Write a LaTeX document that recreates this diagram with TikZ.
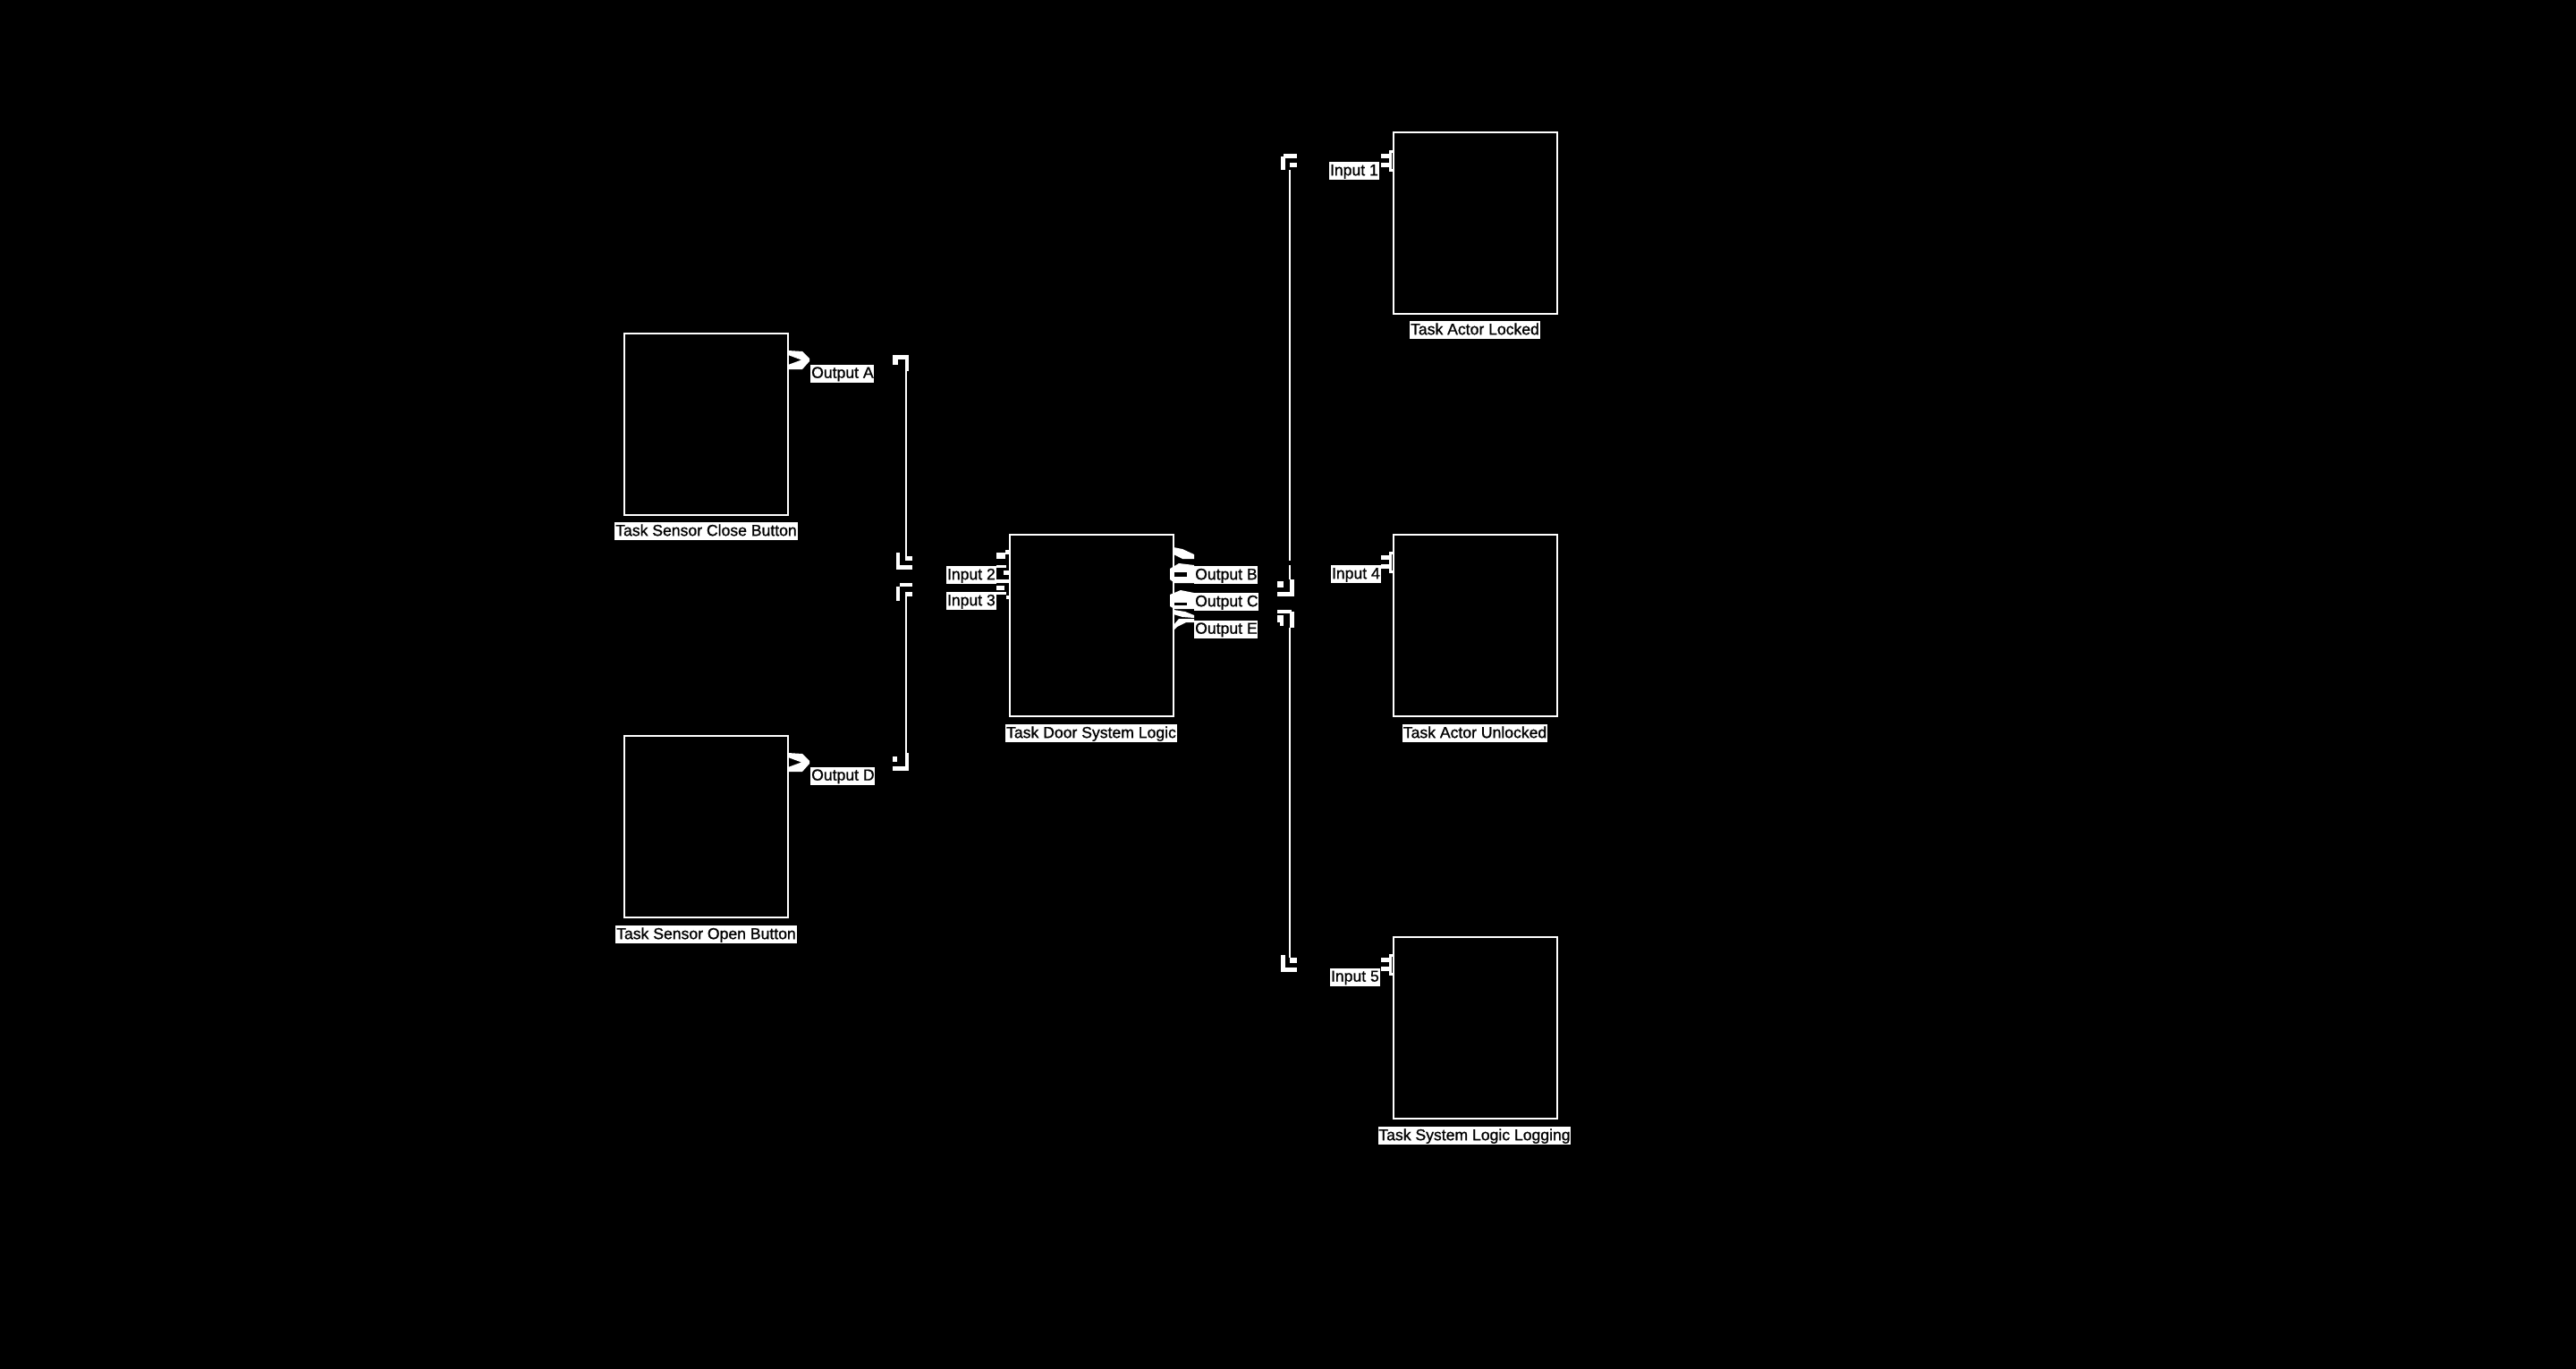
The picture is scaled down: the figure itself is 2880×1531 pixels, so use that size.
\documentclass[tikz,border=0pt]{standalone}
\usepackage{fontspec}
\setmainfont[BoldFont={Liberation Sans},BoldFeatures={FakeBold=1}]{Liberation Sans}
\begin{document}
\begin{tikzpicture}[x=0.5pt,y=-0.5pt,
  taskbox/.style={draw=white,line width=1pt,minimum width=91.5pt,minimum height=101.5pt,inner sep=0pt,outer sep=0pt},
  tag/.style={fill=white,text=black,inner sep=0.4pt,font=\fontsize{8.8}{9}\selectfont\bfseries,text height=0.72em,text depth=0.2em},
  bus/.style={draw=white,line width=0.8pt},
  inport/.pic={
    \fill[white] (-14,-8) rectangle (-4,-3);
    \fill[white] (-14,2) rectangle (-4,7);
    \fill[white] (-5,-12) rectangle (-2,12);
    \fill[white] (-5,-12) rectangle (0,-9);
    \fill[white] (-5,9) rectangle (0,12);
  },
  outport/.pic={
    \fill[white] (0,-10) -- (16,-9) -- (24,-1) -- (24,2) -- (16,11) -- (0,11)
      -- (0,6) -- (15,0.5) -- (0,-5) -- cycle;
  }]
% canvas
\fill[black] (0,0) rectangle (2880,1531);
\useasboundingbox (0,0) rectangle (2880,1531);

% task blocks
\node[taskbox] (close)    at (789.5,474)    {};
\node[taskbox] (open)     at (789.5,924)    {};
\node[taskbox] (logic)    at (1220,699.5)   {};
\node[taskbox] (locked)   at (1649.5,249.5) {};
\node[taskbox] (unlocked) at (1649.5,699.5) {};
\node[taskbox] (logging)  at (1649.5,1149.5){};

% block titles
\node[tag] (closeT)    at (789.5,594)   {Task Sensor Close Button};
\node[tag] (openT)     at (789.5,1045)  {Task Sensor Open Button};
\node[tag] (logicT)    at (1220,820)    {Task Door System Logic};
\node[tag] (lockedT)   at (1649,369)    {Task Actor Locked};
\node[tag] (unlockedT) at (1649,820)    {Task Actor Unlocked};
\node[tag] (loggingT)  at (1648.5,1270) {Task System Logic Logging};

% port labels
\node[tag,anchor=west] (outA) at (906,417.5)  {Output A};
\node[tag,anchor=west] (outD) at (906,867.5)  {Output D};
\node[tag,anchor=west] (outB) at (1335,643)   {Output B};
\node[tag,anchor=west] (outC) at (1335,673)   {Output C};
\node[tag,anchor=west] (outE) at (1335,703.5) {Output E};
\node[tag,anchor=east] (in2)  at (1114,643)   {Input 2};
\node[tag,anchor=east] (in3)  at (1114,672)   {Input 3};
\node[tag,anchor=east] (in1)  at (1542,191)   {Input 1};
\node[tag,anchor=east] (in4)  at (1544,642)   {Input 4};
\node[tag,anchor=east] (in5)  at (1543,1092.5){Input 5};

% port markers on the sensor blocks
\pic at (881,402) {outport};
\pic at (881,852) {outport};

% port markers on the logic block (outputs)
\fill[white] (1312,612) -- (1322,614) -- (1335,620) -- (1335,625) -- (1322,625) -- (1312,620) -- cycle;
\fill[white] (1318,630) -- (1335,632) -- (1335,652) -- (1313,652) -- (1308,648) -- (1308,636) -- cycle;
\fill[black] (1313,640) rectangle (1327,645);
\fill[white] (1320,660) -- (1335,663) -- (1335,681) -- (1313,681) -- (1308,678) -- (1308,665) -- cycle;
\fill[black] (1313,674) rectangle (1327,677);
\fill[white] (1312,682) -- (1325,684) -- (1335,688) -- (1335,691) -- (1322,690) -- (1312,687) -- cycle;
\fill[white] (1318,692) -- (1335,692) -- (1335,696) -- (1326,696) -- (1316,701) -- (1312,705) -- (1312,699) -- cycle;

% port markers on the logic block (inputs)
\fill[white] (1114,618) rectangle (1124,625);
\fill[white] (1124,615) rectangle (1128,620);
\fill[white] (1114,632) rectangle (1125,635);
\fill[white] (1122,638) rectangle (1128,643);
\fill[white] (1114,648) rectangle (1128,652);
\fill[white] (1114,655) rectangle (1123,660);
\fill[white] (1114,662) rectangle (1125,665);
\fill[white] (1125,666) rectangle (1128,670);

% port markers on the actor / logging blocks
\pic at (1558,180)  {inport};
\pic at (1558,629)  {inport};
\pic at (1558,1079) {inport};

% bus corner coordinates
\coordinate (lA) at (1013,415);
\coordinate (lB) at (1013,622);
\coordinate (lC) at (1013,667);
\coordinate (lD) at (1013,842);
\coordinate (rA) at (1442,190);
\coordinate (rX) at (1442,627);
\coordinate (rY) at (1442,632);
\coordinate (rB) at (1442,648);
\coordinate (rC) at (1442,702);
\coordinate (rD) at (1442,1071);

% bus lines
\draw[bus] (lA) -- (lB);
\draw[bus] (lC) -- (lD);
\draw[bus] (rA) -- (rX);
\draw[bus] (rY) -- (rB);
\draw[bus] (rC) -- (rD);

% left bus corners
\fill[white] (998,397) rectangle (1016,402);
\fill[white] (1012,402) rectangle (1016,415);
\fill[white] (998,402) rectangle (1004,408);
\fill[white] (1002,618) rectangle (1006,637);
\fill[white] (1002,632) rectangle (1020,637);
\fill[white] (1012,622) rectangle (1020,627);
\fill[white] (1006,652) rectangle (1020,656);
\fill[white] (1002,656) rectangle (1006,672);
\fill[white] (1012,662) rectangle (1020,667);
\fill[white] (1012,842) rectangle (1016,862);
\fill[white] (998,857) rectangle (1016,862);
\fill[white] (998,846) rectangle (1003,852);

% right bus corners
\fill[white] (1435,172) rectangle (1450,177);
\fill[white] (1432,175) rectangle (1437,190);
\fill[white] (1442,182) rectangle (1450,187);
\fill[white] (1442,648) rectangle (1447,667);
\fill[white] (1428,662) rectangle (1447,667);
\fill[white] (1428,650) rectangle (1435,657);
\fill[white] (1428,682) rectangle (1444,686);
\fill[white] (1442,684) rectangle (1447,702);
\fill[white] (1428,688) rectangle (1435,696);
\fill[white] (1431,696) rectangle (1435,700);
\fill[white] (1432,1068) rectangle (1437,1087);
\fill[white] (1432,1082) rectangle (1450,1087);
\fill[white] (1442,1071) rectangle (1450,1077);
\end{tikzpicture}
\end{document}
